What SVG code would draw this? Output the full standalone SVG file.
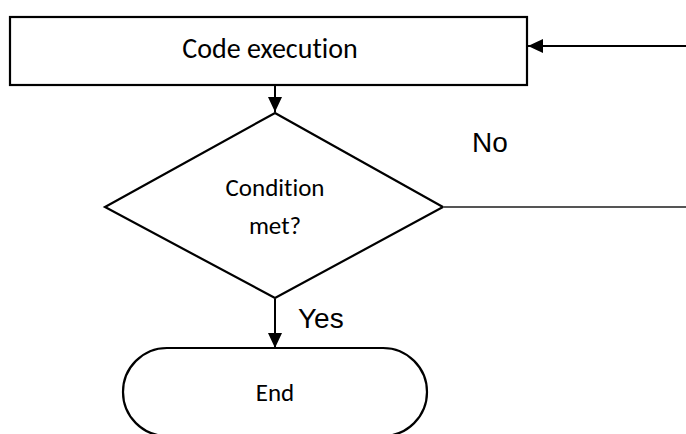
<svg xmlns="http://www.w3.org/2000/svg" width="686" height="434" viewBox="0 0 686 434">
  <style>
    .shape { fill: #ffffff; stroke: #000000; stroke-width: 2.2; }
    .label { font-family: Carlito, Calibri, Lato, "Open Sans", sans-serif; font-size: 25px; fill: #000000; text-anchor: middle; font-variant-ligatures: none; }
    .title { font-size: 28px; }
    .branch { font-family: "Liberation Sans", Arial, sans-serif; font-size: 28px; fill: #000000; }
    .flow { stroke: #000000; stroke-width: 2; fill: none; }
    .plain { stroke: #555555; stroke-width: 2; fill: none; }
  </style>
  <defs>
    <marker id="arrow" markerWidth="16" markerHeight="14" refX="15" refY="7" orient="auto" markerUnits="userSpaceOnUse">
      <path d="M0,0 L15,7 L0,14 Z" fill="#000000"/>
    </marker>
  </defs>

  <g id="code-execution">
    <rect class="shape" x="10" y="17" width="517" height="68"/>
    <text class="label title" x="270" y="58">Code execution</text>
  </g>

  <g id="condition">
    <polygon class="shape" points="275,113 443,207 275,298 105,207"/>
    <text class="label" x="275" y="196">Condition</text>
    <text class="label" x="275" y="234">met?</text>
  </g>

  <g id="end">
    <rect class="shape" x="123" y="348" width="304" height="88" rx="44" ry="44"/>
    <text class="label" x="275" y="401">End</text>
  </g>

  <g id="connectors">
    <line class="flow" x1="275" y1="85" x2="275" y2="112" marker-end="url(#arrow)"/>
    <line class="plain" x1="443" y1="207" x2="686" y2="207"/>
    <line class="flow" x1="686" y1="46" x2="528" y2="46" marker-end="url(#arrow)"/>
    <line class="flow" x1="275" y1="299" x2="275" y2="348" marker-end="url(#arrow)"/>
    <text class="branch" x="472" y="152">No</text>
    <text class="branch" x="298" y="328">Yes</text>
  </g>
</svg>
